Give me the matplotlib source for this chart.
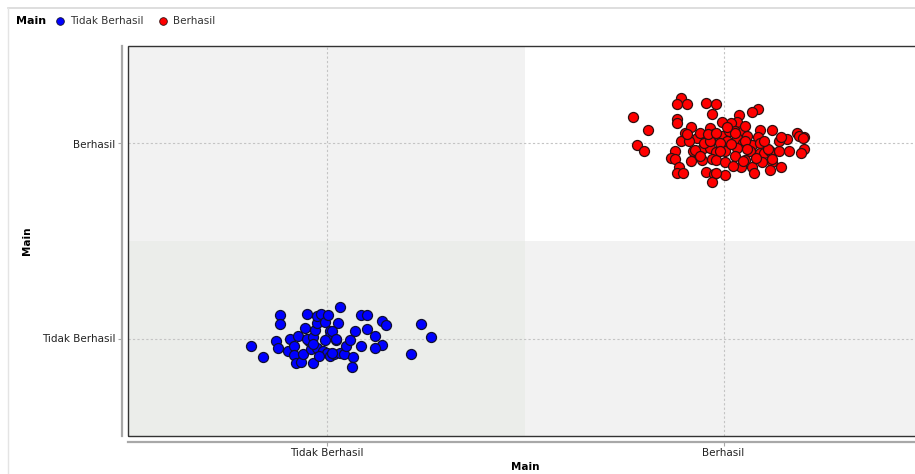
import matplotlib
matplotlib.use("Agg")
import matplotlib.pyplot as plt
from matplotlib.patches import Rectangle
import numpy as np

# Categories of the "Main" attribute (both axes use the same attribute)
categories = ["Tidak Berhasil", "Berhasil"]

# Jittered positions of the "Tidak Berhasil" rows (category 0 on both axes)
blue_x = [-0.118, -0.118, -0.050, -0.189, -0.161, -0.126, -0.123, -0.093, -0.096, -0.081,
          -0.083, -0.071, -0.078, -0.065, -0.058, -0.053, -0.033, -0.040, -0.043, -0.048,
          -0.033, -0.028, -0.025, -0.023, -0.013, -0.003, 0.005, 0.008, 0.010, -0.023,
          -0.010, 0.000, 0.008, 0.020, 0.025, 0.028, 0.035, 0.013, 0.023, 0.033,
          0.043, 0.048, 0.060, 0.073, 0.088, 0.103, 0.103, 0.141, 0.151, 0.123,
          0.139, 0.121, 0.088, 0.068, 0.065, 0.237, 0.264, 0.214, 0.015, -0.035,
          -0.005, -0.018]
blue_y = [0.123, 0.072, 0.128, -0.036, -0.097, -0.015, -0.051, 0.000, -0.062, -0.036,
          -0.087, 0.015, -0.128, -0.118, -0.077, 0.056, -0.128, -0.056, -0.015, 0.000,
          0.010, 0.046, 0.077, 0.113, 0.128, 0.087, 0.118, 0.041, 0.015, -0.051,
          -0.062, -0.072, -0.092, -0.082, -0.010, 0.077, 0.159, 0.036, -0.005, -0.072,
          -0.077, -0.041, -0.010, 0.036, 0.118, 0.118, 0.051, 0.092, 0.067, 0.015,
          -0.031, -0.051, -0.041, -0.097, -0.144, 0.072, 0.010, -0.082, -0.072, -0.026,
          -0.010, -0.092]

# Jittered positions of the "Berhasil" rows (category 1 on both axes)
red_x = [-0.229, -0.191, -0.106, -0.116, -0.093, -0.045, -0.018, -0.028, -0.118, -0.118,
         -0.098, -0.081, 0.086, 0.073, 0.038, 0.033, 0.018, -0.005, 0.093, 0.121,
         0.184, 0.202, -0.035, -0.023, -0.003, 0.015, 0.030, 0.048, 0.060, 0.086,
         0.144, 0.159, 0.189, -0.217, -0.199, -0.106, -0.123, -0.131, -0.123, -0.111,
         -0.116, -0.101, -0.078, -0.055, -0.035, -0.018, -0.081, -0.055, -0.030, -0.045,
         -0.023, -0.028, -0.068, -0.048, -0.035, 0.003, -0.020, 0.003, 0.003, 0.010,
         0.035, 0.048, 0.035, 0.071, 0.091, 0.068, 0.091, 0.103, 0.116, 0.141,
         0.141, 0.199, 0.202, 0.053, 0.045, 0.073, 0.096, 0.121, 0.116, 0.144,
         -0.060, -0.040, -0.018, 0.028, -0.010, 0.020, 0.053, -0.073, -0.010, 0.058,
         0.111, 0.028, 0.048, 0.083, 0.121, 0.196, 0.146, -0.018, -0.086, -0.091,
         0.010, 0.053, 0.103, 0.166, 0.078, 0.023, -0.060]
red_y = [0.138, 0.067, 0.231, 0.200, 0.205, 0.210, 0.205, 0.149, 0.128, 0.103,
         0.056, 0.087, 0.179, 0.159, 0.144, 0.108, 0.103, 0.108, 0.067, 0.067,
         0.056, 0.031, 0.077, 0.051, 0.041, 0.062, 0.062, 0.062, 0.041, 0.031,
         0.026, 0.021, 0.041, -0.010, -0.036, 0.015, -0.036, -0.072, -0.077, -0.123,
         -0.149, -0.149, -0.036, -0.026, -0.021, -0.046, -0.092, -0.087, -0.077, -0.144,
         -0.154, -0.195, 0.026, 0.005, 0.015, -0.164, -0.087, -0.097, -0.036, 0.015,
         0.026, 0.005, -0.021, -0.010, 0.000, -0.036, -0.051, -0.051, -0.036, -0.036,
         0.015, 0.026, -0.026, -0.087, -0.123, -0.123, -0.097, -0.097, -0.138, -0.118,
         0.056, 0.051, 0.056, 0.056, 0.005, -0.005, 0.015, -0.031, -0.041, -0.026,
         -0.026, -0.062, -0.092, -0.072, -0.077, -0.051, 0.031, -0.149, 0.015, 0.051,
         0.087, 0.092, 0.015, -0.036, -0.149, -0.113, -0.062]

# Cell shading per (y category, x category)
cell_colors = [["#ebedea", "#f2f2f2"],
               ["#f2f2f2", "#ffffff"]]

W, H, DPI = 915, 474, 100
fig = plt.figure(figsize=(W / DPI, H / DPI), dpi=DPI)
fig.patch.set_facecolor("white")

ax = fig.add_axes([128 / W, 38 / H, 794 / W, 390 / H])
n = len(categories)
ax.set_xlim(-0.5, n - 0.5)
ax.set_ylim(-0.5, n - 0.5)

# shaded cells
for iy in range(n):
    for ix in range(n):
        ax.add_patch(Rectangle((ix - 0.5, iy - 0.5), 1, 1, facecolor=cell_colors[iy][ix],
                               edgecolor="none", zorder=0))

# grid
ax.set_xticks(range(n))
ax.set_yticks(range(n))
ax.set_xticklabels(categories)
ax.set_yticklabels(categories)
ax.grid(True, linestyle=(0, (2, 2)), color="#c4c4c4", linewidth=0.8, zorder=1)

# points
bx = np.array(blue_x) + 0
by = np.array(blue_y) + 0
rx = np.array(red_x) + 1
ry = np.array(red_y) + 1
ax.scatter(bx, by, s=52, c="#0000ff", edgecolors="#101030", linewidths=0.9, zorder=3)
ax.scatter(rx, ry, s=52, c="#ff0000", edgecolors="#301010", linewidths=0.9, zorder=3)

# inner frame
ax.add_patch(Rectangle((0, 0), 1, 1, transform=ax.transAxes, fill=False,
                       edgecolor="#333333", linewidth=1.0, zorder=5, clip_on=False))

# offset axis lines
for side in ("top", "right"):
    ax.spines[side].set_visible(False)
for side in ("left", "bottom"):
    ax.spines[side].set_position(("outward", 4))
    ax.spines[side].set_color("#a8a8a8")
    ax.spines[side].set_linewidth(1.6)
ax.tick_params(axis="both", length=3, width=0.8, color="#a8a8a8", labelsize=7.5,
               labelcolor="#222222", pad=2)

ax.set_xlabel("Main", fontsize=7.5, fontweight="bold")
ax.set_ylabel("Main", fontsize=7.5, fontweight="bold")
ax.xaxis.set_label_coords(0.5, -0.066)
ax.yaxis.set_label_coords(-0.121, 0.5)

# panel border lines
fig.add_artist(plt.Line2D([8 / W, 1], [1 - 8 / H, 1 - 8 / H], color="#d8d8d8", linewidth=1.2))
fig.add_artist(plt.Line2D([8 / W, 8 / W], [0, 1 - 8 / H], color="#e4e4e4", linewidth=1.0))

# legend row
ly = 1 - 21 / H
fig.text(16 / W, ly, "Main", fontsize=8, fontweight="bold", va="center", ha="left")
fig.add_artist(plt.Line2D([60 / W], [ly], marker="o", markersize=5.5, color="#0000ff",
                          markeredgecolor="#101030", markeredgewidth=0.6, linestyle="none"))
fig.text(70 / W, ly, "Tidak Berhasil", fontsize=7.5, va="center", ha="left", color="#333333")
fig.add_artist(plt.Line2D([163 / W], [ly], marker="o", markersize=5.5, color="#ff0000",
                          markeredgecolor="#301010", markeredgewidth=0.6, linestyle="none"))
fig.text(173 / W, ly, "Berhasil", fontsize=7.5, va="center", ha="left", color="#333333")

fig.savefig("out.png", dpi=DPI)
